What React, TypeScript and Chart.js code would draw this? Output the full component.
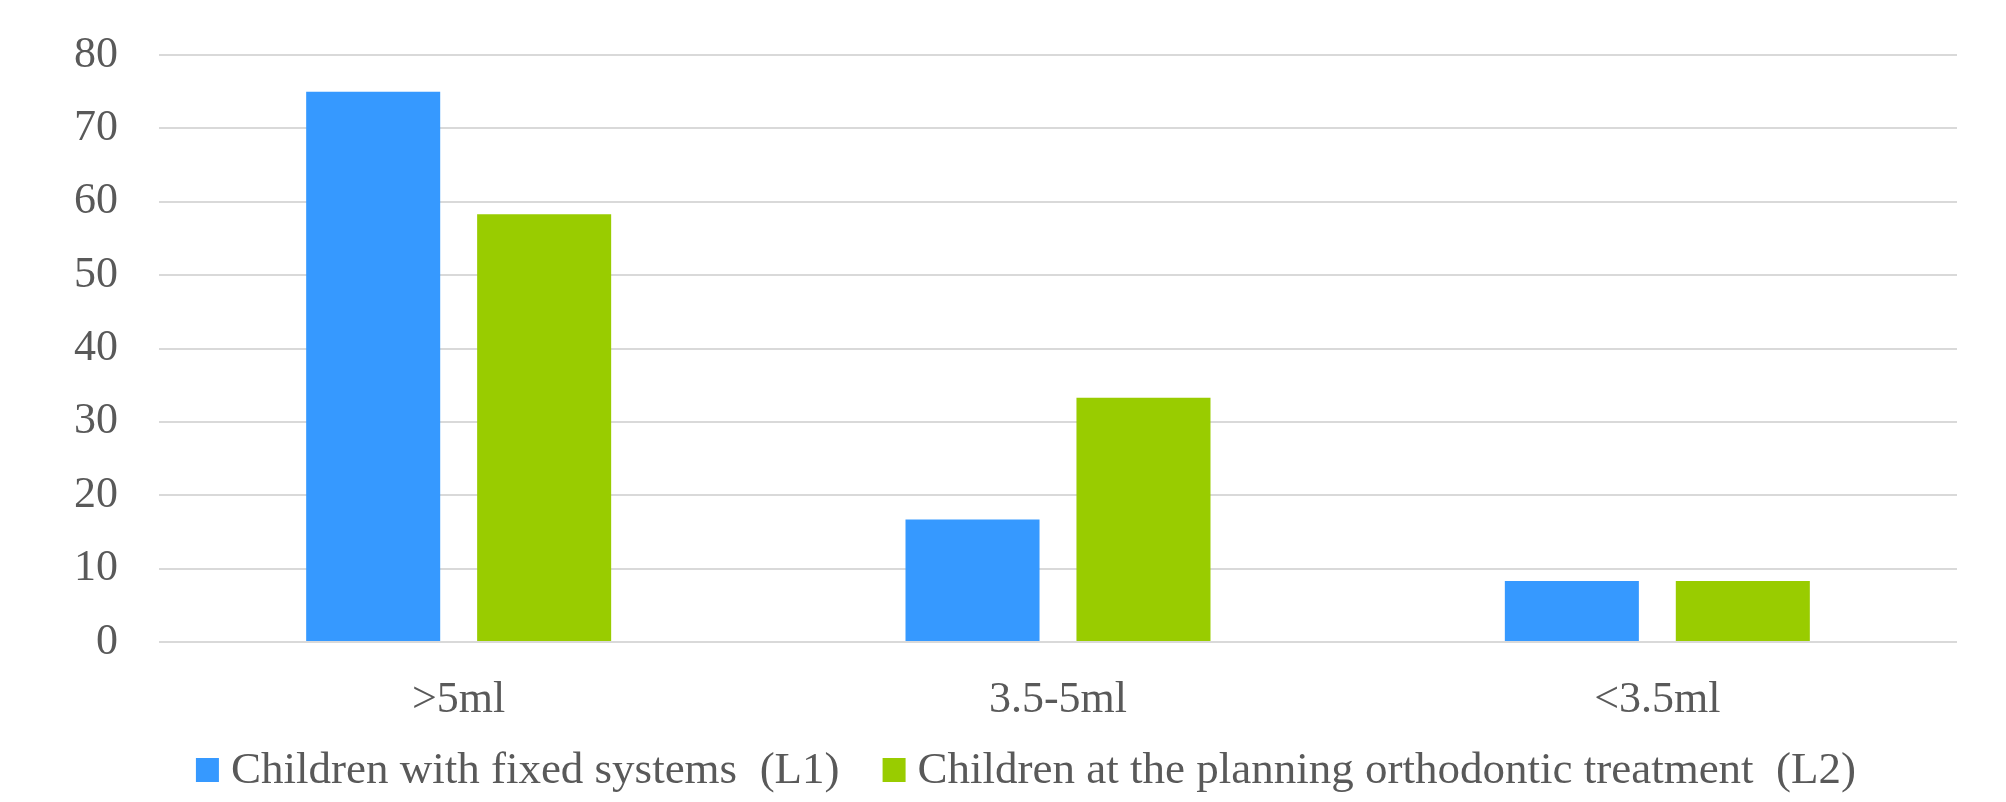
import { useEffect, useRef } from "react";
import { Chart, registerables } from "chart.js";

Chart.register(...registerables);

// Saliva volume groups and the share of children (%) in each group
const categories = [">5ml", "3.5-5ml", "<3.5ml"];
const fixedSystems = [75, 16.7, 8.3];
const planningTreatment = [58.3, 33.3, 8.3];
const seriesLabels = [
  "Children with fixed systems  (L1)",
  "Children at the planning orthodontic treatment  (L2)",
];
const yMin = 0;
const yMax = 80;
const yStep = 10;

const BLUE = "#3699FF";
const GREEN = "#99CC00";
const TEXT = "#595959";
const GRID = "#d9d9d9";
const FONT = "'Liberation Serif', 'Times New Roman', serif";

// Legend drawn under the axis: square swatch, short gap, then the series name
const bottomLegend = {
  id: "bottomLegend",
  afterDraw(chart: any) {
    const ctx = chart.ctx as CanvasRenderingContext2D;
    const swatchW = 23;
    const swatchH = 24;
    const swatchGap = 12;
    const itemGap = 43;
    const centerX = 1026;
    const centerY = 770;
    ctx.save();
    ctx.font = `45px ${FONT}`;
    ctx.textBaseline = "middle";
    ctx.textAlign = "left";
    const items = chart.data.datasets.map((ds: any) => ({
      text: ds.label as string,
      color: ds.backgroundColor as string,
      width: ctx.measureText(ds.label).width,
    }));
    const total =
      items.reduce((s: number, it: any) => s + swatchW + swatchGap + it.width, 0) +
      itemGap * (items.length - 1);
    let x = centerX - total / 2;
    for (const it of items) {
      ctx.fillStyle = it.color;
      ctx.fillRect(x, centerY - swatchH / 2, swatchW, swatchH);
      x += swatchW + swatchGap;
      ctx.fillStyle = TEXT;
      ctx.fillText(it.text, x, centerY + 1);
      x += it.width + itemGap;
    }
    ctx.restore();
  },
};

export default function App() {
  const canvasRef = useRef<HTMLCanvasElement | null>(null);

  useEffect(() => {
    const canvas = canvasRef.current;
    if (!canvas) return;
    const chart = new Chart(canvas, {
      type: "bar",
      data: {
        labels: categories,
        datasets: [
          {
            label: seriesLabels[0],
            data: fixedSystems,
            backgroundColor: BLUE,
            categoryPercentage: 0.5705,
            barPercentage: 0.784,
          },
          {
            label: seriesLabels[1],
            data: planningTreatment,
            backgroundColor: GREEN,
            categoryPercentage: 0.5705,
            barPercentage: 0.784,
          },
        ],
      },
      plugins: [bottomLegend],
      options: {
        responsive: false,
        animation: false,
        devicePixelRatio: 1,
        layout: { padding: { left: 0, right: 49, top: 55, bottom: 90 } },
        plugins: {
          tooltip: { enabled: false },
          legend: { display: false },
        },
        scales: {
          x: {
            grid: { display: false, drawTicks: false },
            border: { display: false },
            ticks: {
              color: TEXT,
              padding: 32,
              font: { family: FONT, size: 44 },
            },
            afterFit: (scale: any) => {
              scale.height = 70;
            },
          },
          y: {
            min: yMin,
            max: yMax,
            ticks: {
              stepSize: yStep,
              color: TEXT,
              padding: 41,
              font: { family: FONT, size: 44 },
            },
            grid: {
              color: GRID,
              lineWidth: 2,
              drawTicks: false,
            },
            border: { display: false },
            afterFit: (scale: any) => {
              scale.width = 159;
              // the top label may overhang into the layout padding
              scale.paddingTop = 0;
              scale.paddingBottom = 0;
            },
          },
        },
      },
    });
    return () => chart.destroy();
  }, []);

  return (
    <div
      style={{
        position: "fixed",
        left: 0,
        top: 0,
        width: 2006,
        height: 802,
        background: "#ffffff",
      }}
    >
      <canvas ref={canvasRef} width={2006} height={802} />
    </div>
  );
}
